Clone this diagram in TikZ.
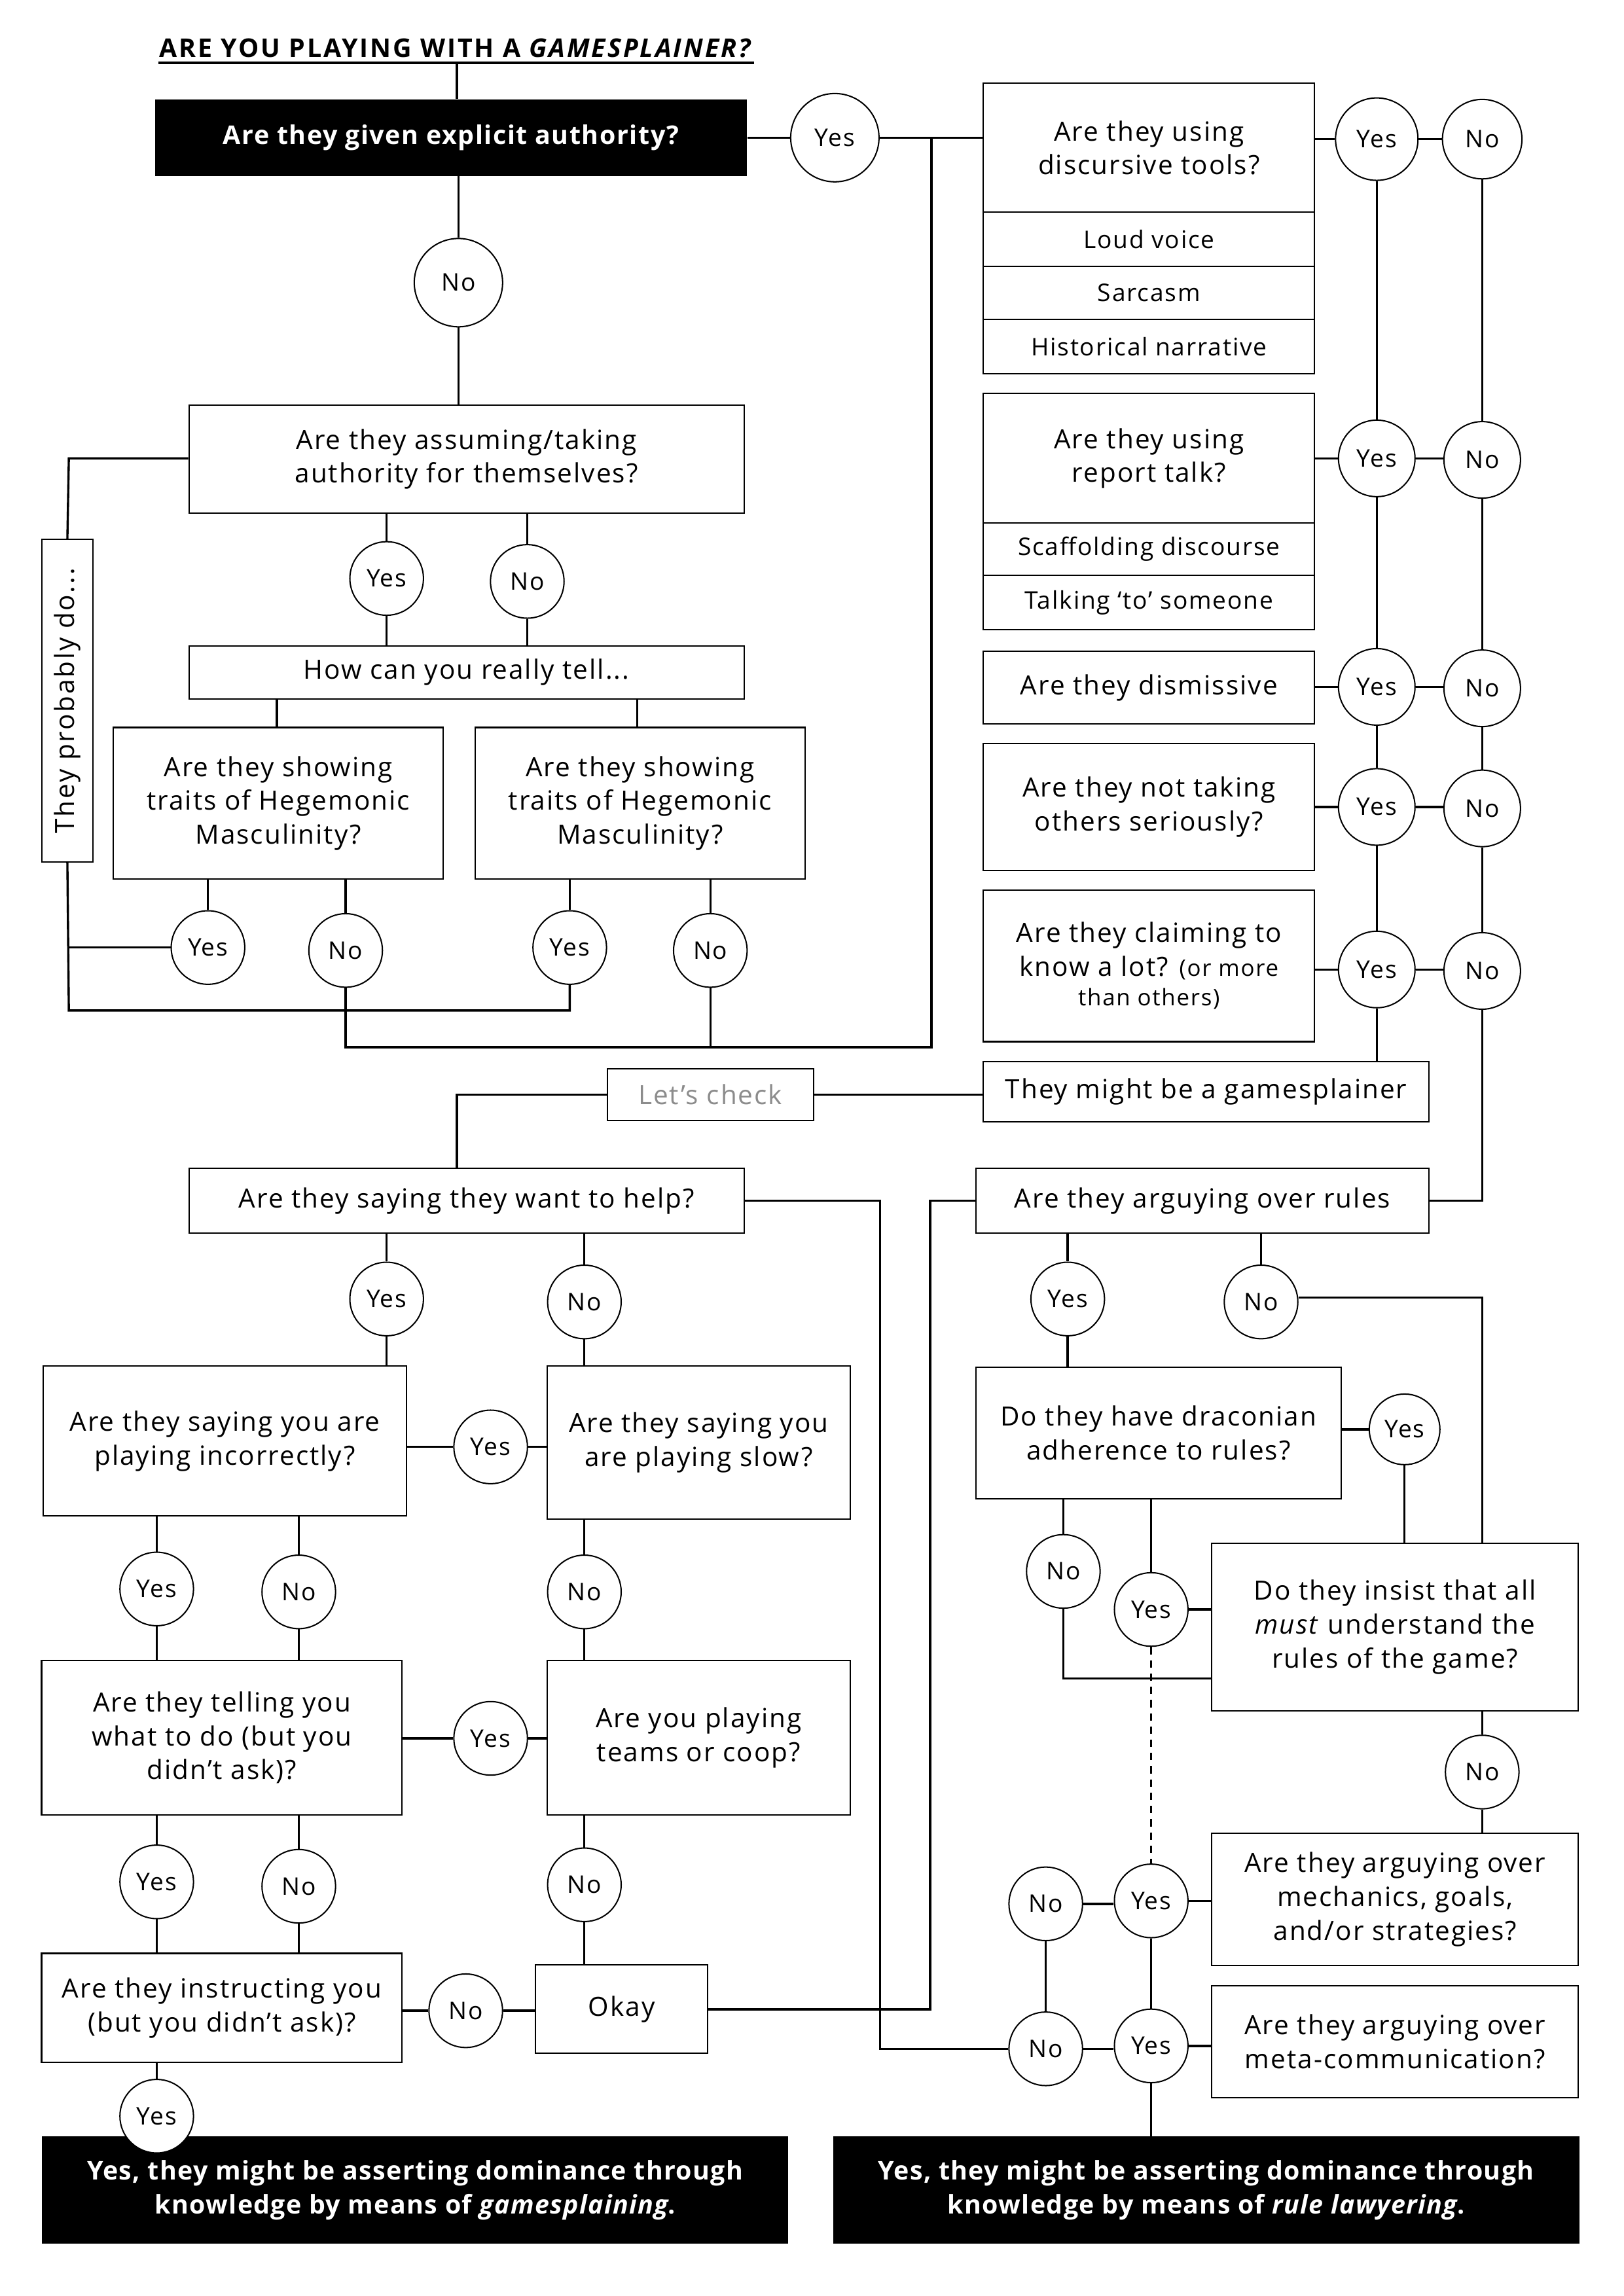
\documentclass[tikz,border=0pt]{standalone}
\usepackage{fontspec}
\setmainfont{Open Sans}[LetterSpace=5]
\begin{document}
\begin{tikzpicture}[x=0.995pt,y=-0.995pt,
  txt/.style={font=\fontsize{18}{23}\selectfont},
  box/.style={draw, line width=0.9pt, fill=white, align=center, inner sep=0pt, txt},
  sub/.style={box, font=\fontsize{16.5}{20}\selectfont},
  blk/.style={fill=black, text=white, align=center, inner sep=0pt, font=\fontsize{17.5}{23}\selectfont\bfseries\addfontfeature{LetterSpace=4}},
  blk2/.style={blk, font=\fontsize{17.5}{23}\selectfont\bfseries\addfontfeature{LetterSpace=3.5}},
  yn/.style={circle, draw, fill=white, line width=0.9pt, minimum size=50pt, inner sep=0pt, font=\fontsize{16.5}{20}\selectfont},
  conn/.style={line width=1.5pt},
  dconn/.style={line width=1.5pt, dashed, dash pattern=on 5pt off 4pt}
]
\useasboundingbox (0,0) rectangle (1108.5,1567.8);
\fill[white] (0,0) rectangle (1108.5,1567.8);

% title
\node[font=\fontsize{17.5}{21}\selectfont\bfseries\addfontfeature{LetterSpace=7.5}, inner sep=0pt] (title) at (311.5,33) {ARE YOU PLAYING WITH A \textit{GAMESPLAINER?}};
\coordinate (ul) at (108,43);
\coordinate (ur) at (515,43);
\coordinate (tm) at (312,43);
\draw[line width=2pt] (ul) -- (ur);

% top
\node[blk, minimum width=402pt, minimum height=52pt] (q1) at (308,94) {Are they given explicit authority?};
\node[yn, minimum size=60pt] (y1) at (570,94) {Yes};
\node[yn, minimum size=60pt] (n1) at (313,193) {No};

% right column
\node[box, minimum width=225pt, minimum height=88pt] (q2) at (784.5,101) {Are they using\\discursive tools?};
\node[sub, minimum width=225pt, minimum height=37pt] (s1) at (784.5,163.5) {Loud voice};
\node[sub, minimum width=225pt, minimum height=36pt] (s2) at (784.5,200) {Sarcasm};
\node[sub, minimum width=225pt, minimum height=37pt] (s3) at (784.5,236.5) {Historical narrative};
\node[yn, minimum size=56pt] (ry1) at (940,95) {Yes};
\node[yn, minimum size=54pt] (rn1) at (1012,95) {No};

\node[box, minimum width=225pt, minimum height=88pt] (q3) at (784.5,313) {Are they using\\report talk?};
\node[sub, minimum width=225pt, minimum height=36pt] (s4) at (784.5,375) {Scaffolding discourse};
\node[sub, minimum width=225pt, minimum height=37pt] (s5) at (784.5,411.5) {Talking ‘to’ someone};
\node[yn, minimum size=52pt] (ry2) at (940,313) {Yes};
\node[yn, minimum size=52pt] (rn2) at (1012,314) {No};

\node[box, minimum width=225pt, minimum height=49pt] (q4) at (784.5,469.5) {Are they dismissive};
\node[yn, minimum size=52pt] (ry3) at (940,469) {Yes};
\node[yn, minimum size=52pt] (rn3) at (1012,470) {No};

\node[box, minimum width=225pt, minimum height=86pt] (q5) at (784.5,551) {Are they not taking\\others seriously?};
\node[yn, minimum size=52pt] (ry4) at (940,551) {Yes};
\node[yn, minimum size=52pt] (rn4) at (1012,552) {No};

\node[box, minimum width=225pt, minimum height=103pt] (q6) at (784.5,659.5) {Are they claiming to\\know a lot? {\fontsize{15.5}{20}\selectfont(or more}\\[-3pt]{\fontsize{15.5}{20}\selectfont than others)}};
\node[yn, minimum size=52pt] (ry5) at (940,662) {Yes};
\node[yn, minimum size=52pt] (rn5) at (1012,663) {No};

\node[box, minimum width=303pt, minimum height=41pt] (q7) at (823.5,745.5) {They might be a gamesplainer};
\node[box, minimum width=140pt, minimum height=35pt, text=black!45] (lc) at (485,747.5) {Let’s check};

% left upper
\node[box, minimum width=377pt, minimum height=73pt] (a1) at (318.5,313.5) {Are they assuming/taking\\authority for themselves?};
\node[box, rotate=90, minimum width=219pt, minimum height=35pt, font=\fontsize{18}{23}\selectfont\addfontfeature{LetterSpace=7}] (tp) at (46,478.5) {They probably do...};
\node[yn] (ay) at (264,395) {Yes};
\node[yn] (an) at (360,397) {No};
\node[box, minimum width=377pt, minimum height=36pt] (ht) at (318.5,459) {How can you really tell...};
\node[box, minimum width=224pt, minimum height=103pt] (h1) at (190,548.5) {Are they showing\\traits of Hegemonic\\Masculinity?};
\node[box, minimum width=224pt, minimum height=103pt] (h2) at (437,548.5) {Are they showing\\traits of Hegemonic\\Masculinity?};
\node[yn] (h1y) at (142,647) {Yes};
\node[yn] (h1n) at (236,649) {No};
\node[yn] (h2y) at (389,647) {Yes};
\node[yn] (h2n) at (485,649) {No};

% left lower
\node[box, minimum width=377pt, minimum height=44pt] (w1) at (318.5,820) {Are they saying they want to help?};
\node[yn] (wy) at (264,887) {Yes};
\node[yn] (wn) at (399,889) {No};
\node[box, minimum width=247pt, minimum height=102pt] (b1) at (153.5,984) {Are they saying you are\\playing incorrectly?};
\node[box, minimum width=206pt, minimum height=104pt] (b2) at (477,985) {Are they saying you\\are playing slow?};
\node[yn] (by) at (335,988) {Yes};
\node[yn] (b1y) at (107,1085) {Yes};
\node[yn] (b1n) at (204,1087) {No};
\node[yn] (b2n) at (399,1087) {No};
\node[box, minimum width=245pt, minimum height=105pt] (c1) at (151.5,1186.5) {Are they telling you\\what to do (but you\\didn’t ask)?};
\node[box, minimum width=206pt, minimum height=105pt] (c2) at (477,1186.5) {Are you playing\\teams or coop?};
\node[yn] (cy) at (335,1187) {Yes};
\node[yn] (c1y) at (107,1285) {Yes};
\node[yn] (c1n) at (204,1288) {No};
\node[yn] (c2n) at (399,1287) {No};
\node[box, minimum width=245pt, minimum height=74pt] (d1) at (151.5,1371) {Are they instructing you\\(but you didn’t ask)?};
\node[box, minimum width=117pt, minimum height=60pt] (ok) at (424.5,1372) {Okay};
\node[yn] (dn) at (318,1373) {No};
\node[blk2, minimum width=507pt, minimum height=73pt] (fin1) at (283.5,1495.5) {Yes, they might be asserting dominance through\\knowledge by means of \textit{gamesplaining}.};
\node[yn] (dy) at (107,1445) {Yes};

% right lower
\node[box, minimum width=308pt, minimum height=44pt] (r1) at (821,820) {Are they arguying over rules};
\node[yn] (ey) at (729,887) {Yes};
\node[yn] (en) at (861,889) {No};
\node[box, minimum width=248pt, minimum height=89pt] (dr) at (791,978.5) {Do they have draconian\\adherence to rules?};
\node[yn, minimum size=48pt] (dry) at (959,976) {Yes};
\node[yn] (drn) at (726,1073) {No};
\node[yn] (dryy) at (786,1099) {Yes};
\node[box, minimum width=249pt, minimum height=114pt] (ins) at (952.5,1111) {Do they insist that all\\\textit{must} understand the\\rules of the game?};
\node[yn] (insn) at (1012,1210) {No};
\node[box, minimum width=249pt, minimum height=90pt] (mech) at (952.5,1297) {Are they arguying over\\mechanics, goals,\\and/or strategies?};
\node[yn] (my) at (786,1298) {Yes};
\node[yn] (mn) at (714,1300) {No};
\node[box, minimum width=249pt, minimum height=76pt] (meta) at (952.5,1394) {Are they arguying over\\meta-communication?};
\node[yn] (ty) at (786,1397) {Yes};
\node[yn] (tn) at (714,1399) {No};
\node[blk2, minimum width=507pt, minimum height=73pt] (fin2) at (823.5,1495.5) {Yes, they might be asserting dominance through\\knowledge by means of \textit{rule lawyering}.};

% junction coordinates
\coordinate (j1) at (636,94);
\coordinate (j2) at (636,715);
\coordinate (j3) at (47,690);
\coordinate (j4) at (47,313);
\coordinate (lcj) at (312,747.5);
\coordinate (jL) at (601,820);
\coordinate (jR) at (635,820);
\coordinate (jN) at (1012,886);
\coordinate (jD) at (726,1146);

% connectors top
\draw[conn] (tm) -- (tm |- q1.north);
\draw[conn] (q1.east) -- (y1.west);
\draw[conn] (y1.east) -- (y1.east -| q2.west);
\draw[conn] (h1n.south) |- (j2) -- (j1);
\draw[conn] (h2n.south) -- (h2n.south |- j2);
\draw[conn] (n1.north |- q1.south) -- (n1.north);
\draw[conn] (n1.south) -- (n1.south |- a1.north);

% right column connectors
\draw[conn] (q2.east |- ry1) -- (ry1.west);
\draw[conn] (ry1.east) -- (rn1.west);
\draw[conn] (q3.east |- ry2) -- (ry2.west);
\draw[conn] (ry2.east) -- (rn2.west |- ry2);
\draw[conn] (q4.east |- ry3) -- (ry3.west);
\draw[conn] (ry3.east) -- (rn3.west |- ry3);
\draw[conn] (q5.east |- ry4) -- (ry4.west);
\draw[conn] (ry4.east) -- (rn4.west |- ry4);
\draw[conn] (q6.east |- ry5) -- (ry5.west);
\draw[conn] (ry5.east) -- (rn5.west |- ry5);
\draw[conn] (ry1.south) -- (ry2.north);
\draw[conn] (ry2.south) -- (ry3.north);
\draw[conn] (ry3.south) -- (ry4.north);
\draw[conn] (ry4.south) -- (ry5.north);
\draw[conn] (ry5.south) -- (ry5.south |- q7.north);
\draw[conn] (rn1.south) -- (rn2.north);
\draw[conn] (rn2.south) -- (rn3.north);
\draw[conn] (rn3.south) -- (rn4.north);
\draw[conn] (rn4.south) -- (rn5.north);
\draw[conn] (rn5.south) |- (r1.east);
\draw[conn] (q7.west |- lc.east) -- (lc.east);
\draw[conn] (lc.west) -- (lcj) -- (lcj |- w1.north);

% left upper connectors
\draw[conn] (a1.west |- j4) -- (j4) -- (tp.east);
\draw[conn] (tp.west) -- (j3) -| (h2y.south);
\draw[conn] (h1y.west) -- (h1y.west -| j3);
\draw[conn] (ay.north |- a1.south) -- (ay.north);
\draw[conn] (ay.south) -- (ay.south |- ht.north);
\draw[conn] (an.north |- a1.south) -- (an.north);
\draw[conn] (an.south) -- (an.south |- ht.north);
\draw[conn] (h1.north -| 189,0) -- (189,477);
\draw[conn] (h2.north -| 435,0) -- (435,477);
\draw[conn] (h1y.north |- h1.south) -- (h1y.north);
\draw[conn] (h1n.north |- h1.south) -- (h1n.north);
\draw[conn] (h2y.north |- h2.south) -- (h2y.north);
\draw[conn] (h2n.north |- h2.south) -- (h2n.north);

% left lower connectors
\draw[conn] (w1.east) -- (jL) |- (tn.west);
\draw[conn] (ok.east) -| (jR) -- (r1.west);
\draw[conn] (wy.north |- w1.south) -- (wy.north);
\draw[conn] (wy.south) -- (wy.south |- b1.north);
\draw[conn] (wn.north |- w1.south) -- (wn.north);
\draw[conn] (wn.south) -- (wn.south |- b2.north);
\draw[conn] (b1.east |- by) -- (by.west);
\draw[conn] (by.east) -- (by.east -| b2.west);
\draw[conn] (b1y.north |- b1.south) -- (b1y.north);
\draw[conn] (b1y.south) -- (b1y.south |- c1.north);
\draw[conn] (b1n.north |- b1.south) -- (b1n.north);
\draw[conn] (b1n.south) -- (b1n.south |- c1.north);
\draw[conn] (b2n.north |- b2.south) -- (b2n.north);
\draw[conn] (b2n.south) -- (b2n.south |- c2.north);
\draw[conn] (c1.east |- cy) -- (cy.west);
\draw[conn] (cy.east) -- (cy.east -| c2.west);
\draw[conn] (c1y.north |- c1.south) -- (c1y.north);
\draw[conn] (c1y.south) -- (c1y.south |- d1.north);
\draw[conn] (c1n.north |- c1.south) -- (c1n.north);
\draw[conn] (c1n.south) -- (c1n.south |- d1.north);
\draw[conn] (c2n.north |- c2.south) -- (c2n.north);
\draw[conn] (c2n.south) -- (c2n.south |- ok.north);
\draw[conn] (d1.east |- dn) -- (dn.west);
\draw[conn] (dn.east) -- (dn.east -| ok.west);
\draw[conn] (dy.north |- d1.south) -- (dy.north);

% right lower connectors
\draw[conn] (ey.north |- r1.south) -- (ey.north);
\draw[conn] (ey.south) -- (ey.south |- dr.north);
\draw[conn] (en.north |- r1.south) -- (en.north);
\draw[conn] (en.east |- jN) -- (jN) -- (jN |- ins.north);
\draw[conn] (dr.east |- dry) -- (dry.west);
\draw[conn] (dry.south) -- (dry.south |- ins.north);
\draw[conn] (drn.north |- dr.south) -- (drn.north);
\draw[conn] (drn.south) -- (jD) -- (jD -| ins.west);
\draw[conn] (dryy.north |- dr.south) -- (dryy.north);
\draw[conn] (dryy.east) -- (dryy.east -| ins.west);
\draw[dconn] (dryy.south) -- (my.north);
\draw[conn] (insn.north |- ins.south) -- (insn.north);
\draw[conn] (insn.south) -- (insn.south |- mech.north);
\draw[conn] (mn.east) -- (my.west |- mn.east);
\draw[conn] (my.east) -- (my.east -| mech.west);
\draw[conn] (mn.south) -- (tn.north);
\draw[conn] (my.south) -- (ty.north);
\draw[conn] (tn.east) -- (ty.west |- tn.east);
\draw[conn] (ty.east) -- (ty.east -| meta.west);
\draw[conn] (ty.south) -- (ty.south |- fin2.north);
\end{tikzpicture}
\end{document}
